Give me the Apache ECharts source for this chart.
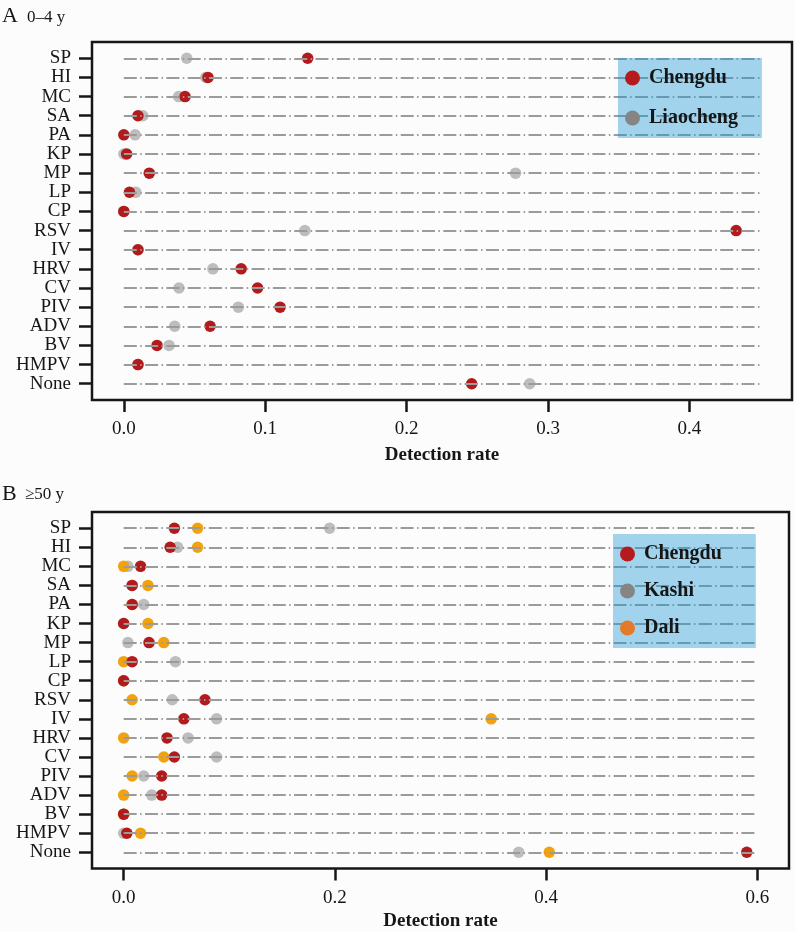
<!DOCTYPE html>
<html>
<head>
<meta charset="utf-8">
<title>Detection rate by pathogen</title>
<script src="https://cdn.jsdelivr.net/npm/echarts@6.0.0/dist/echarts.min.js"></script>
<style>
  html, body { margin: 0; padding: 0; background: #fcfcfc; }
  #chart { width: 795px; height: 932px; }
</style>
</head>
<body>
<div id="chart"></div>
<script>
// pathogens, top to bottom
var categories = ['SP', 'HI', 'MC', 'SA', 'PA', 'KP', 'MP', 'LP', 'CP', 'RSV', 'IV', 'HRV', 'CV', 'PIV', 'ADV', 'BV', 'HMPV', 'None'];

// A: 0-4 y
var chengduA    = [0.130, 0.0595, 0.0433, 0.010, 0.0, 0.002, 0.018, 0.004, 0.0, 0.433, 0.010, 0.083, 0.0946, 0.1105, 0.061, 0.0235, 0.010, 0.246];
var liaochengA  = [0.0445, 0.058, 0.0388, 0.0134, 0.008, 0.0, 0.277, 0.0085, 0.0, 0.128, 0.010, 0.063, 0.039, 0.081, 0.036, 0.032, 0.010, 0.287];

// B: >=50 y
var chengduB = [0.048, 0.044, 0.016, 0.008, 0.008, 0.0, 0.024, 0.008, 0.0, 0.077, 0.057, 0.041, 0.048, 0.036, 0.036, 0.0, 0.003, 0.590];
var kashiB   = [0.195, 0.051, 0.004, 0.008, 0.019, 0.0, 0.004, 0.049, 0.0, 0.046, 0.088, 0.061, 0.088, 0.019, 0.0265, 0.0, 0.0, 0.374];
var daliB    = [0.070, 0.070, 0.0, 0.023, 0.008, 0.023, 0.038, 0.0, 0.0, 0.008, 0.348, 0.0, 0.038, 0.008, 0.0, 0.0, 0.016, 0.403];

// x ticks and guide line extent
var xTicksA = [0, 0.1, 0.2, 0.3, 0.4];
var xTicksB = [0, 0.2, 0.4, 0.6];
var lineEndA = 0.45;
var lineEndB = 0.6;

var FONT = '"Liberation Serif", "DejaVu Serif", serif';
var INK = '#161616';
var rowIdx = categories.map(function (c, i) { return i; });

function pts(vals) {
  return vals.map(function (v, i) { return [v, i]; });
}
function guides(end) {
  return categories.map(function (c, i) { return { coords: [[0, i], [end, i]] }; });
}

function xAx(idx, min, max, ticks, gap) {
  return {
    type: 'value', gridIndex: idx, min: min, max: max,
    name: 'Detection rate', nameLocation: 'middle', nameGap: gap,
    nameTextStyle: { fontFamily: FONT, fontWeight: 'bold', fontSize: 19, color: INK },
    axisLine: { show: false, onZero: false },
    axisTick: { show: true, length: 12, customValues: ticks, lineStyle: { color: INK, width: 2.5 } },
    axisLabel: { customValues: ticks, margin: 20, fontFamily: FONT, fontSize: 19, color: INK,
      formatter: function (v) { return v.toFixed(1); } },
    splitLine: { show: false }
  };
}
function yAx(idx) {
  return {
    type: 'value', gridIndex: idx, inverse: true, min: -0.85, max: 17.85,
    axisLine: { show: false, onZero: false },
    axisTick: { show: true, length: 13, customValues: rowIdx, lineStyle: { color: INK, width: 2.5 } },
    axisLabel: { customValues: rowIdx, margin: 21, fontFamily: FONT, fontSize: 19, color: INK,
      formatter: function (v) { return categories[Math.round(v)]; } },
    splitLine: { show: false }
  };
}
function dots(name, data, color, gi) {
  return {
    name: name, type: 'scatter', xAxisIndex: gi, yAxisIndex: gi,
    data: pts(data), symbolSize: 11.5, z: 2,
    itemStyle: { color: color, opacity: 1 }
  };
}
function guideSeries(end, gi) {
  return {
    type: 'lines', coordinateSystem: 'cartesian2d', xAxisIndex: gi, yAxisIndex: gi,
    data: guides(end), silent: true, z: 3,
    lineStyle: { color: '#9b9b9b', width: 2, opacity: 1, type: [13, 3.4, 1.5, 3.4] }
  };
}

var chart = echarts.init(document.getElementById('chart'));

var option = {
  backgroundColor: '#fcfcfc',
  animation: false,
  graphic: [
    { type: 'text', left: 2, top: 5, style: { text: 'A', font: '22px ' + FONT, fill: INK } },
    { type: 'text', left: 27, top: 9, style: { text: '0–4 y', font: '17px ' + FONT, fill: INK } },
    { type: 'text', left: 2, top: 483, style: { text: 'B', font: '22px ' + FONT, fill: INK } },
    { type: 'text', left: 25, top: 486, style: { text: '≥50 y', font: '17px ' + FONT, fill: INK } }
  ],
  grid: [
    { left: 92, top: 42, right: 3, bottom: 532, show: true, borderColor: INK, borderWidth: 2.5, backgroundColor: 'transparent' },
    { left: 92, top: 512, right: 6, bottom: 63.5, show: true, borderColor: INK, borderWidth: 2.5, backgroundColor: 'transparent' }
  ],
  xAxis: [xAx(0, -0.0225, 0.4725, xTicksA, 46), xAx(1, -0.03, 0.63, xTicksB, 43)],
  yAxis: [yAx(0), yAx(1)],
  legend: [
    {
      left: 618, top: 58, orient: 'vertical', icon: 'circle', itemWidth: 15, itemHeight: 15,
      itemGap: 20, selectedMode: false, z: 6,
      padding: [10, 24, 10, 7],
      backgroundColor: 'rgba(25,150,215,0.4)',
      textStyle: { fontFamily: FONT, fontWeight: 'bold', fontSize: 20, color: INK, padding: [0, 0, 0, 4] },
      data: [
        { name: 'Chengdu', itemStyle: { color: '#b51a1d' } },
        { name: 'Liaocheng', itemStyle: { color: '#858585' } }
      ]
    },
    {
      left: 613, top: 534, orient: 'vertical', icon: 'circle', itemWidth: 15, itemHeight: 15,
      itemGap: 17, selectedMode: false, z: 6,
      padding: [10, 34, 10, 7],
      backgroundColor: 'rgba(25,150,215,0.4)',
      textStyle: { fontFamily: FONT, fontWeight: 'bold', fontSize: 20, color: INK, padding: [0, 0, 0, 4] },
      data: [
        { name: 'Chengdu', itemStyle: { color: '#b51a1d' } },
        { name: 'Kashi', itemStyle: { color: '#858585' } },
        { name: 'Dali', itemStyle: { color: '#e27a2a' } }
      ]
    }
  ],
  series: [
    dots('Liaocheng', liaochengA, '#bdbdbd', 0),
    dots('Chengdu', chengduA, '#b31a1c', 0),
    guideSeries(lineEndA, 0),
    dots('Kashi', kashiB, '#bdbdbd', 1),
    dots('Dali', daliB, '#f2a20d', 1),
    dots('Chengdu', chengduB, '#b31a1c', 1),
    guideSeries(lineEndB, 1)
  ]
};

chart.setOption(option);
</script>
</body>
</html>
